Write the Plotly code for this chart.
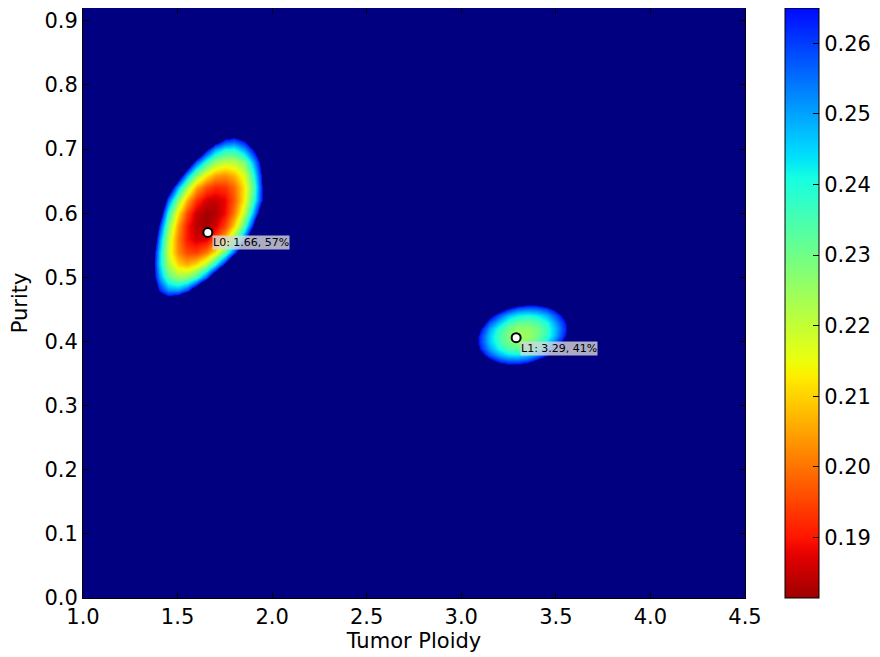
import numpy as np
import plotly.graph_objects as go

# ---------------- data ----------------
# likelihood surface around peak L0 (grid)
l0_x = [1.30, 1.35, 1.40, 1.45, 1.50, 1.55, 1.60, 1.65, 1.70, 1.75, 1.80, 1.85, 1.90, 1.95, 2.00]
l0_y = [0.44, 0.46, 0.48, 0.50, 0.52, 0.54, 0.56, 0.58, 0.60, 0.62, 0.64, 0.66, 0.68, 0.70, 0.72, 0.74, 0.76]
l0_z = [
    [0.35, 0.33, 0.318, 0.314, 0.317, 0.328, 0.345, 0.35, 0.35, 0.35, 0.35, 0.35, 0.35, 0.35, 0.35],
    [0.33, 0.30, 0.287, 0.282, 0.290, 0.31, 0.33, 0.35, 0.35, 0.35, 0.35, 0.35, 0.35, 0.35, 0.35],
    [0.33, 0.291, 0.264, 0.252, 0.251, 0.260, 0.280, 0.31, 0.34, 0.35, 0.35, 0.35, 0.35, 0.35, 0.35],
    [0.33, 0.284, 0.252, 0.233, 0.225, 0.227, 0.236, 0.257, 0.285, 0.32, 0.35, 0.35, 0.35, 0.35, 0.35],
    [0.33, 0.284, 0.246, 0.223, 0.210, 0.206, 0.211, 0.222, 0.241, 0.268, 0.30, 0.34, 0.35, 0.35, 0.35],
    [0.347, 0.288, 0.247, 0.219, 0.202, 0.195, 0.194, 0.200, 0.212, 0.232, 0.258, 0.292, 0.33, 0.35, 0.35],
    [0.35, 0.299, 0.253, 0.221, 0.201, 0.190, 0.186, 0.187, 0.195, 0.208, 0.228, 0.255, 0.292, 0.33, 0.35],
    [0.35, 0.31, 0.263, 0.228, 0.204, 0.190, 0.184, 0.182, 0.186, 0.195, 0.210, 0.234, 0.266, 0.31, 0.35],
    [0.35, 0.33, 0.278, 0.239, 0.212, 0.195, 0.185, 0.182, 0.183, 0.189, 0.201, 0.220, 0.248, 0.284, 0.33],
    [0.35, 0.35, 0.297, 0.256, 0.226, 0.206, 0.193, 0.186, 0.185, 0.188, 0.197, 0.213, 0.236, 0.268, 0.31],
    [0.35, 0.35, 0.32, 0.282, 0.248, 0.224, 0.206, 0.196, 0.192, 0.193, 0.199, 0.212, 0.232, 0.268, 0.30],
    [0.35, 0.35, 0.35, 0.32, 0.279, 0.249, 0.227, 0.213, 0.205, 0.203, 0.207, 0.217, 0.238, 0.270, 0.30],
    [0.35, 0.35, 0.35, 0.35, 0.32, 0.284, 0.257, 0.237, 0.225, 0.220, 0.221, 0.228, 0.248, 0.275, 0.31],
    [0.35, 0.35, 0.35, 0.35, 0.35, 0.33, 0.295, 0.268, 0.250, 0.241, 0.240, 0.250, 0.266, 0.285, 0.32],
    [0.35, 0.35, 0.35, 0.35, 0.35, 0.35, 0.34, 0.31, 0.288, 0.272, 0.268, 0.274, 0.285, 0.31, 0.34],
    [0.35, 0.35, 0.35, 0.35, 0.35, 0.35, 0.35, 0.35, 0.31, 0.31, 0.31, 0.31, 0.31, 0.35, 0.35],
    [0.35, 0.35, 0.35, 0.35, 0.35, 0.35, 0.35, 0.35, 0.35, 0.35, 0.35, 0.35, 0.35, 0.35, 0.35],
]

# likelihood surface around peak L1
l1_x = [3.00, 3.05, 3.10, 3.15, 3.20, 3.25, 3.30, 3.35, 3.40, 3.45, 3.50, 3.55, 3.60, 3.65]
l1_y = [0.35, 0.36, 0.37, 0.38, 0.39, 0.40, 0.41, 0.42, 0.43, 0.44, 0.45, 0.46, 0.47]
l1_z = [
    [0.30, 0.30, 0.30, 0.30, 0.296, 0.294, 0.295, 0.30, 0.30, 0.30, 0.30, 0.30, 0.30, 0.30],
    [0.30, 0.30, 0.295, 0.284, 0.277, 0.273, 0.273, 0.278, 0.286, 0.298, 0.30, 0.30, 0.30, 0.30],
    [0.30, 0.296, 0.281, 0.269, 0.260, 0.256, 0.256, 0.259, 0.267, 0.278, 0.293, 0.30, 0.30, 0.30],
    [0.30, 0.287, 0.270, 0.257, 0.248, 0.243, 0.242, 0.245, 0.251, 0.262, 0.276, 0.295, 0.30, 0.30],
    [0.30, 0.281, 0.263, 0.250, 0.240, 0.234, 0.232, 0.234, 0.240, 0.250, 0.263, 0.281, 0.30, 0.30],
    [0.30, 0.278, 0.260, 0.246, 0.236, 0.229, 0.226, 0.228, 0.233, 0.242, 0.255, 0.271, 0.292, 0.30],
    [0.30, 0.280, 0.261, 0.246, 0.235, 0.228, 0.224, 0.225, 0.229, 0.237, 0.249, 0.265, 0.285, 0.30],
    [0.30, 0.286, 0.266, 0.250, 0.238, 0.230, 0.226, 0.226, 0.229, 0.237, 0.248, 0.263, 0.283, 0.30],
    [0.30, 0.295, 0.275, 0.258, 0.246, 0.237, 0.232, 0.231, 0.234, 0.240, 0.251, 0.265, 0.284, 0.30],
    [0.30, 0.30, 0.288, 0.270, 0.257, 0.247, 0.242, 0.240, 0.242, 0.248, 0.258, 0.271, 0.290, 0.30],
    [0.30, 0.30, 0.30, 0.286, 0.272, 0.262, 0.255, 0.253, 0.254, 0.259, 0.268, 0.281, 0.295, 0.30],
    [0.30, 0.30, 0.30, 0.30, 0.291, 0.280, 0.273, 0.269, 0.270, 0.274, 0.283, 0.30, 0.30, 0.30],
    [0.30, 0.30, 0.30, 0.30, 0.30, 0.30, 0.29, 0.29, 0.29, 0.29, 0.30, 0.30, 0.30, 0.30],
]

peak_names = ["L0", "L1"]
peak_ploidy = [1.66, 3.29]
peak_purity = [0.57, 0.406]

x_ticks = [1.0, 1.5, 2.0, 2.5, 3.0, 3.5, 4.0, 4.5]
y_ticks = [0.0, 0.1, 0.2, 0.3, 0.4, 0.5, 0.6, 0.7, 0.8, 0.9]
cbar_ticks = [0.19, 0.20, 0.21, 0.22, 0.23, 0.24, 0.25, 0.26]

# ---------------- colour scale (reversed jet, clipped) ----------------
ZMIN, ZMAX = 0.1814, 0.265
NAVY = "rgb(0,0,128)"


def jet(x):
    r = np.interp(x, [0, 0.35, 0.66, 0.89, 1], [0, 0, 1, 1, 0.5])
    g = np.interp(x, [0, 0.125, 0.375, 0.64, 0.91, 1], [0, 0, 1, 1, 0, 0])
    b = np.interp(x, [0, 0.11, 0.34, 0.65, 1], [0.5, 1, 1, 0, 0])
    return "rgb(%d,%d,%d)" % (round(r * 255), round(g * 255), round(b * 255))


colorscale = []
for t in np.linspace(0, 0.999, 60):
    v = ZMIN + t * (ZMAX - ZMIN)
    p = 0.112 + 10.06 * (v - 0.19)          # position in jet_r
    colorscale.append([float(t), jet(1 - p)])
colorscale.append([1.0, NAVY])

FONT = "DejaVu Sans"
FS = 21

fig = go.Figure()

fig.add_trace(go.Heatmap(
    x=l0_x, y=l0_y, z=l0_z, zmin=ZMIN, zmax=ZMAX, zsmooth="best",
    colorscale=colorscale, hoverinfo="skip",
    colorbar=dict(
        x=1.0604, xanchor="left", xpad=0, y=0.5, yanchor="middle", ypad=0,
        len=1, lenmode="fraction", thickness=34,
        outlinecolor="black", outlinewidth=1,
        tickvals=cbar_ticks, ticktext=["%.2f" % v for v in cbar_ticks],
        ticks="inside", ticklen=6, tickcolor="black", tickwidth=1,
        tickfont=dict(family=FONT, size=FS, color="black"),
    ),
))
fig.add_trace(go.Heatmap(
    x=l1_x, y=l1_y, z=l1_z, zmin=ZMIN, zmax=ZMAX, zsmooth="best",
    colorscale=colorscale, showscale=False, hoverinfo="skip",
))

fig.add_trace(go.Scatter(
    x=peak_ploidy, y=peak_purity, mode="markers",
    marker=dict(size=9, color="white", line=dict(color="black", width=2)),
    showlegend=False, hoverinfo="skip",
))

for name, px_, py_ in zip(peak_names, peak_ploidy, peak_purity):
    fig.add_annotation(
        x=px_, y=py_, xref="x", yref="y",
        text="%s: %.2f, %d%%" % (name, px_, round(py_ * 100)),
        showarrow=False, xanchor="left", yanchor="top", xshift=4, yshift=-3,
        font=dict(family=FONT, size=11, color="black"),
        bgcolor="rgba(215,215,215,0.8)", borderpad=0,
    )

axis_common = dict(
    showgrid=False, zeroline=False, showline=True, linecolor="black", linewidth=1,
    mirror="ticks", ticks="inside", ticklen=6, tickcolor="black", tickwidth=1,
)

# the page puts the figure 8 px in from the top-left corner of the window
fig.update_layout(
    width=872, height=649,
    margin=dict(l=75, r=135, t=0, b=59, autoexpand=False),
    paper_bgcolor="white", plot_bgcolor=NAVY,
    showlegend=False,
    xaxis=dict(
        range=[1.0, 4.5], tickvals=x_ticks, ticktext=["%.1f" % v for v in x_ticks],
        tickfont=dict(family=FONT, size=FS, color="black"),
        title=dict(text="Tumor Ploidy", standoff=4,
                   font=dict(family=FONT, size=FS, color="black")),
        **axis_common,
    ),
    yaxis=dict(
        range=[0.0, 0.92], tickvals=y_ticks, ticktext=["%.1f" % v for v in y_ticks],
        tickfont=dict(family=FONT, size=FS, color="black"),
        title=dict(text="Purity", standoff=12, font=dict(family=FONT, size=FS, color="black")),
        **axis_common,
    ),
)

fig.write_html("out.html")
